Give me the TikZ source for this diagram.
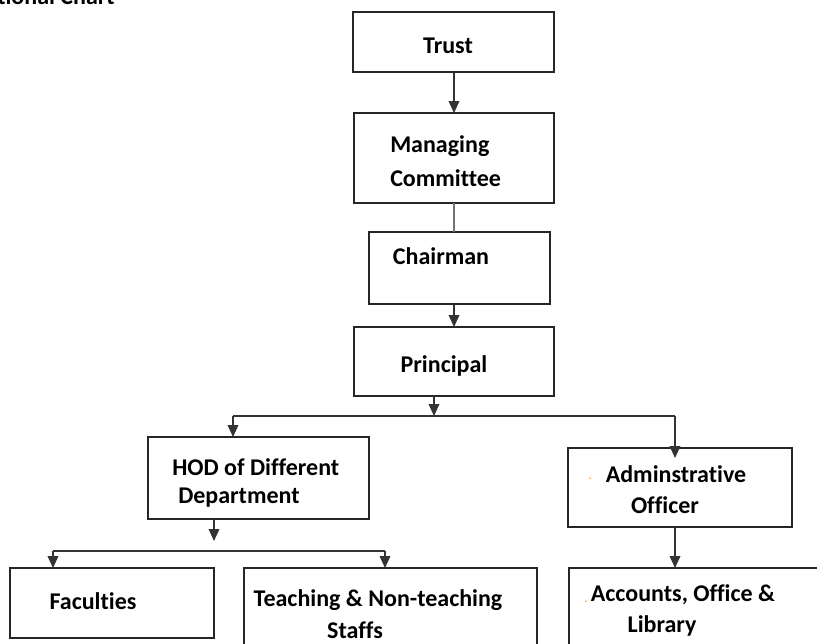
\documentclass[tikz,border=0pt]{standalone}
\usepackage{fontspec}
\setmainfont[Ligatures=NoCommon]{Carlito}
\usetikzlibrary{arrows.meta}
\tikzset{
  box/.style={draw=black!85, line width=1.2pt, fill=white},
  lbl/.style={font=\bfseries\fontsize{18}{22}\selectfont, inner sep=0pt, text=black},
  conn/.style={draw=black!80, line width=1.1pt},
  arr/.style={conn, -{Triangle[length=9pt,width=8pt]}},
  speck/.style={fill=orange!70, inner sep=0pt, minimum size=1.5pt, circle}
}
\begin{document}
\begin{tikzpicture}[x=0.75pt,y=-0.75pt]
\useasboundingbox (0,0) rectangle (817,643);
\clip (0,0) rectangle (817,643);
\fill[white] (0,0) rectangle (817,643);
% title (cut off at the top, as in the reference)
\node[lbl, anchor=base west] (title) at (-3,4) {tional Chart};
% boxes
\draw[box] (353,12) rectangle (554,72);
\coordinate (trustB) at (454,72);
\draw[box] (354,113) rectangle (554,203);
\coordinate (mcT) at (454,113);
\coordinate (mcB) at (454,203);
\draw[box] (369,232) rectangle (550,304);
\coordinate (chT) at (454,232);
\coordinate (chB) at (454,304);
\draw[box] (354,327) rectangle (554,396);
\coordinate (prT) at (454,327);
\coordinate (prB) at (434,396);
\draw[box] (148,437) rectangle (369,519);
\coordinate (hodT) at (233,437);
\coordinate (hodB) at (214,519);
\draw[box] (568,448) rectangle (792,527);
\coordinate (adT) at (675,448);
\coordinate (adB) at (675,527);
\draw[box] (10,568) rectangle (214,638);
\coordinate (faT) at (53,568);
\draw[box] (244,568) rectangle (537,660);
\coordinate (teT) at (385,568);
\draw[box] (569,568) rectangle (840,660);
\coordinate (acT) at (675,568);
% labels
\node[lbl] (trust) at (448,46) {Trust};
\node[lbl, anchor=west] (mc1) at (390,146) {Managing};
\node[lbl, anchor=west] (mc2) at (390,178) {Committee};
\node[lbl] (chair) at (441,256) {Chairman};
\node[lbl] (prin) at (444,366) {Principal};
\node[lbl, anchor=west] (hod1) at (172,467) {HOD of Different};
\node[lbl, anchor=west] (hod2) at (178,498) {Department};
\node[lbl] (ad1) at (676,474) {Adminstrative};
\node[lbl] (ad2) at (665,505) {Officer};
\node[lbl] (fac) at (93,601) {Faculties};
\node[lbl] (te1) at (378,600) {Teaching \& Non-teaching};
\node[lbl] (te2) at (355,630) {Staffs};
\node[lbl] (ac1) at (683,595) {Accounts, Office \&};
\node[lbl] (ac2) at (662,626) {Library};
\node[speck] (s1) at (590,478) {};
\node[speck] (s2) at (586,601) {};
% connectors
\draw[arr] (trustB) -- (mcT);
\draw[conn, draw=black!55] (mcB) -- (chT);
\draw[arr] (chB) -- (prT);
\coordinate (busL) at (233,416);
\coordinate (busR) at (675,416);
\coordinate (busM) at (434,416);
\draw[arr] (prB) -- (busM);
\draw[conn] (busL) -- (busR);
\draw[arr] (busL) -- (hodT);
\draw[arr] (busR) -- ([yshift=-10*0.75pt]adT);
\coordinate (bus2L) at (53,551);
\coordinate (bus2R) at (385,551);
\coordinate (bus2M) at (214,551);
\draw[arr] (hodB) -- ([yshift=10*0.75pt]bus2M);
\draw[conn] (bus2L) -- (bus2R);
\draw[arr] (bus2L) -- (faT);
\draw[arr] (bus2R) -- (teT);
\draw[arr] (adB) -- (acT);
\end{tikzpicture}
\end{document}
